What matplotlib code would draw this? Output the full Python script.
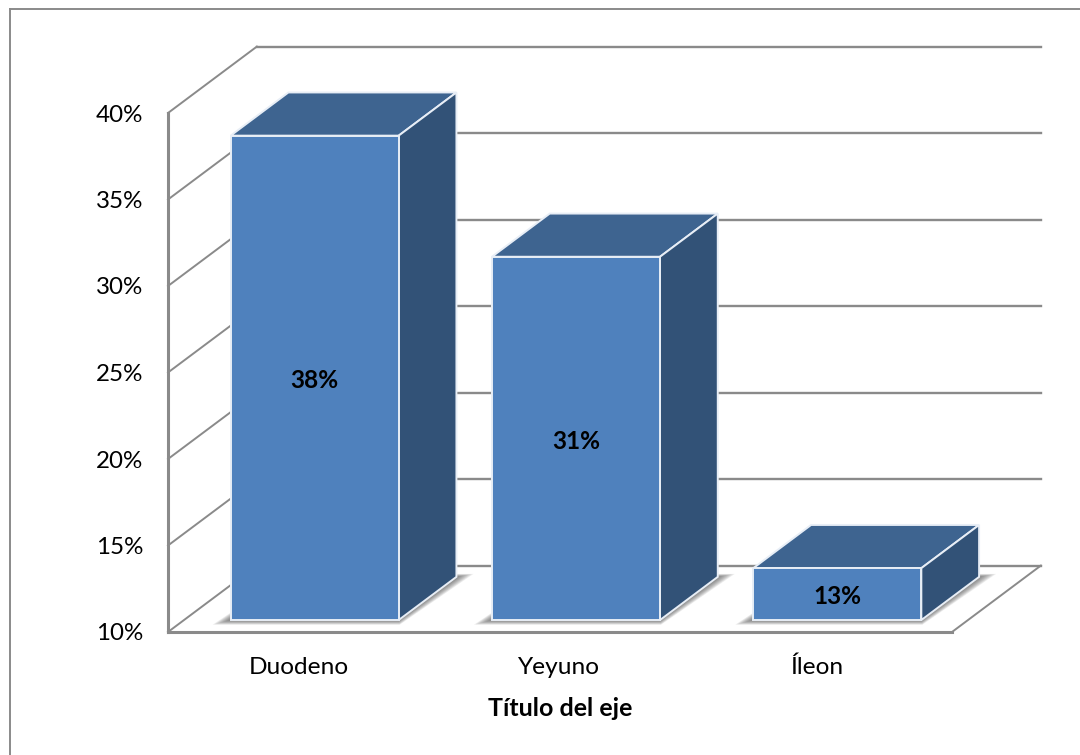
#!/usr/bin/env python3
"""3D-style column chart: percentage by small bowel segment."""

import matplotlib
matplotlib.use('Agg')
import matplotlib.pyplot as plt
from matplotlib.lines import Line2D
from matplotlib.patches import Polygon

plt.rcParams.update({
    'font.family': 'Lato',
    'figure.facecolor': 'white',
})

categories = ['Duodeno', 'Yeyuno', 'Íleon']
values = [38, 31, 13]
y_ticks = [10, 15, 20, 25, 30, 35, 40]
x_title = 'Título del eje'

FRONT_COLOR = '#4f81bd'
TOP_COLOR = '#3e6490'
SIDE_COLOR = '#325277'
LINE_COLOR = '#8a8a8a'

W, H = 1080, 755

# oblique offset of the back wall, in data units
DEPTH_X = 0.34
DEPTH_Y = 3.84
BAR_WIDTH = 0.643
BAR_START = 0.18
BAR_END = 0.83
TICK_STEP = 0.992

fig = plt.figure(figsize=(W / 100, H / 100), dpi=100)
ax = fig.add_axes([168 / W, (H - 632) / H, 784 / W, 519 / H])
ax.set_xlim(-0.5, 2.5)
ax.set_ylim(10, 40)
ax.patch.set_visible(False)

for side in ['top', 'right']:
    ax.spines[side].set_visible(False)
for side in ['left', 'bottom']:
    ax.spines[side].set_color(LINE_COLOR)
    ax.spines[side].set_linewidth(2.2)

# outer frame, open towards the right and bottom edges
frame = dict(color=LINE_COLOR, linewidth=1.4, transform=fig.transFigure)
fig.add_artist(Line2D([10 / W, 10 / W], [0, 1 - 9 / H], **frame))
fig.add_artist(Line2D([10 / W, 1], [1 - 9 / H, 1 - 9 / H], **frame))

# back wall gridlines plus the slanted lines on the side wall
for t in y_ticks:
    ax.plot([-0.5 + DEPTH_X, 2.5 + DEPTH_X], [t + DEPTH_Y, t + DEPTH_Y], color=LINE_COLOR,
            linewidth=1.7, clip_on=False, zorder=1)
    ax.plot([-0.5, -0.5 + DEPTH_X], [t, t + DEPTH_Y], color=LINE_COLOR,
            linewidth=1.4, clip_on=False, zorder=1)
# right edge of the floor
ax.plot([2.5, 2.5 + DEPTH_X], [10, 10 + DEPTH_Y], color=LINE_COLOR,
        linewidth=1.4, clip_on=False, zorder=1)

bdx = (BAR_END - BAR_START) * DEPTH_X
bdy = (BAR_END - BAR_START) * DEPTH_Y
y0 = 10 + BAR_START * DEPTH_Y

for i, val in enumerate(values):
    x0 = i - BAR_WIDTH / 2 + BAR_START * DEPTH_X
    x1 = x0 + BAR_WIDTH
    y1 = y0 + (val - 10)

    # soft floor shadow built from stacked translucent polygons
    for k in range(10, 0, -1):
        g = k / 10
        shadow = [(x0 - g * 0.069, y0 - g * 0.27),
                  (x1 + g * 0.004, y0 - g * 0.27),
                  (x1 + bdx + g * 0.065, y0 + bdy + g * 0.17),
                  (x0 + bdx, y0 + bdy + g * 0.17)]
        ax.add_patch(Polygon(shadow, closed=True, facecolor='#444444', edgecolor='none',
                             alpha=0.09, clip_on=False, zorder=2))

    faces = [
        ([(x0, y1), (x1, y1), (x1 + bdx, y1 + bdy), (x0 + bdx, y1 + bdy)], TOP_COLOR),
        ([(x1, y0), (x1 + bdx, y0 + bdy), (x1 + bdx, y1 + bdy), (x1, y1)], SIDE_COLOR),
        ([(x0, y0), (x1, y0), (x1, y1), (x0, y1)], FRONT_COLOR),
    ]
    for pts, col in faces:
        ax.add_patch(Polygon(pts, closed=True, facecolor=col, edgecolor='#e8eef6',
                             linewidth=1.4, joinstyle='miter', clip_on=False, zorder=3))

    ax.annotate(f'{val}%', ((x0 + x1) / 2, (y0 + y1) / 2), xytext=(0, -2),
                textcoords='offset points', ha='center', va='center',
                fontsize=17.6, fontweight='bold', color='black', zorder=5)

ax.set_xticks([i * TICK_STEP for i in range(len(categories))])
ax.set_xticklabels(categories, fontsize=17.6)
ax.set_yticks(y_ticks)
ax.set_yticklabels([f'{t}%' for t in y_ticks], fontsize=17.4)
ax.tick_params(axis='x', length=0, pad=18, colors='black')
ax.tick_params(axis='y', length=0, pad=18, colors='black')
ax.set_xlabel(x_title, fontsize=18, fontweight='bold', labelpad=13)

fig.savefig('out.png', dpi=100)
plt.close(fig)
